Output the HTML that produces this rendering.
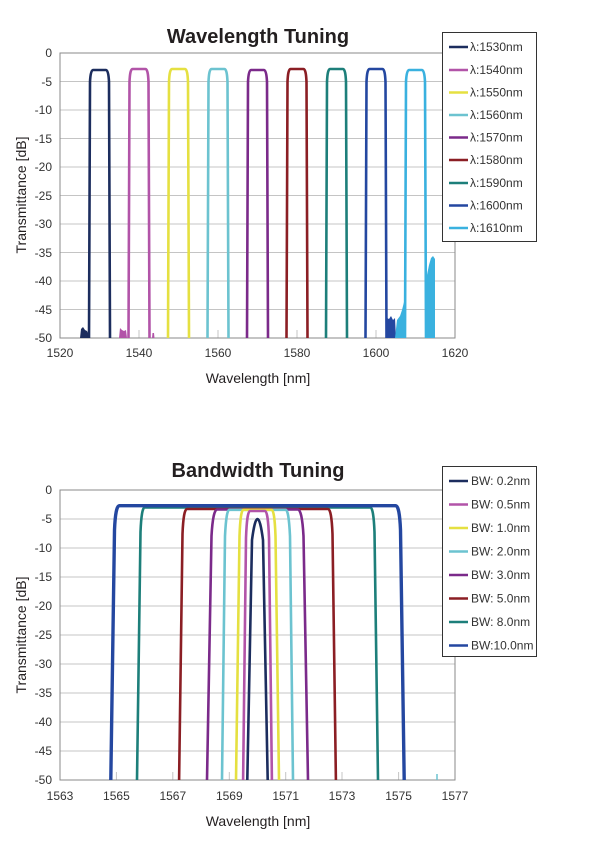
<!DOCTYPE html>
<html><head><meta charset="utf-8"><style>
html,body{margin:0;padding:0;background:#fff;}
svg{display:block;font-family:"Liberation Sans",sans-serif;}
</style></head><body>
<svg width="600" height="852" viewBox="0 0 600 852" xmlns="http://www.w3.org/2000/svg">
<!-- ===== TOP CHART ===== -->
<text x="258" y="43" text-anchor="middle" font-size="20" font-weight="bold" fill="#231f20">Wavelength Tuning</text>
<g stroke="#c4c4c4" stroke-width="1">
<line x1="60" y1="81.5" x2="455" y2="81.5"/><line x1="60" y1="110" x2="455" y2="110"/>
<line x1="60" y1="138.5" x2="455" y2="138.5"/><line x1="60" y1="167" x2="455" y2="167"/>
<line x1="60" y1="195.5" x2="455" y2="195.5"/><line x1="60" y1="224" x2="455" y2="224"/>
<line x1="60" y1="252.5" x2="455" y2="252.5"/><line x1="60" y1="281" x2="455" y2="281"/>
<line x1="60" y1="309.5" x2="455" y2="309.5"/>
<line x1="139" y1="330" x2="139" y2="338"/><line x1="218" y1="330" x2="218" y2="338"/><line x1="297" y1="330" x2="297" y2="338"/><line x1="376" y1="330" x2="376" y2="338"/>
</g>
<rect x="60" y="53" width="395" height="285" fill="none" stroke="#8a8a8a" stroke-width="1"/>
<g font-size="12" fill="#333" text-anchor="end">
<text x="52" y="57">0</text><text x="52" y="86">-5</text><text x="52" y="114">-10</text><text x="52" y="143">-15</text><text x="52" y="171">-20</text><text x="52" y="200">-25</text><text x="52" y="228">-30</text><text x="52" y="257">-35</text><text x="52" y="285">-40</text><text x="52" y="314">-45</text><text x="52" y="342">-50</text>
</g>
<g font-size="12" fill="#333" text-anchor="middle">
<text x="60" y="357">1520</text><text x="139" y="357">1540</text><text x="218" y="357">1560</text><text x="297" y="357">1580</text><text x="376" y="357">1600</text><text x="455" y="357">1620</text>
</g>
<text x="258" y="383" text-anchor="middle" font-size="14" fill="#231f20">Wavelength [nm]</text>
<text transform="translate(26,195) rotate(-90)" text-anchor="middle" font-size="14" fill="#231f20">Transmittance [dB]</text>
<!-- noise -->
<polygon points="80,338 81,329 83,327 85,330 87,331 88,333 89,338" fill="#1c2d5e"/>
<polygon points="119,338 120,328 122,330 124,331 126,330 127,338" fill="#b254a8"/>
<polygon points="152,338 152.5,333 154,333 154.5,338" fill="#b254a8"/>
<polygon points="386,338 387,318 389,319 391,316 393,320 395,318 396,338" fill="#2447a0"/>
<polygon points="395,338 397,320 400,316 402,310 404,302 405,300 405,338" fill="#3ab1df"/>
<polygon points="426,338 427,275 429,265 431,258 433,256 435,259 435,338" fill="#3ab1df"/>
<g fill="none" stroke-width="2.6" stroke-linejoin="round">
<path d="M89,338 L90,82 Q90.5,70 93,70 L106,70 Q108.5,70 109,82 L110,338" stroke="#1c2d5e"/>
<path d="M128.5,338 L129.5,82 Q130,69 132.5,69 L145.5,69 Q148,69 148.5,82 L149.5,338" stroke="#b254a8"/>
<path d="M168,338 L169,82 Q169.5,69 172,69 L185,69 Q187.5,69 188,82 L189,338" stroke="#e5e041"/>
<path d="M207.5,338 L208.5,82 Q209,69 211.5,69 L224.5,69 Q227,69 227.5,82 L228.5,338" stroke="#6cc3d0"/>
<path d="M247,338 L248,82 Q248.5,70 251,70 L264,70 Q266.5,70 267,82 L268,338" stroke="#7b2a8a"/>
<path d="M286.5,338 L287.5,82 Q288,69 290.5,69 L303.5,69 Q306,69 306.5,82 L307.5,338" stroke="#8b1e24"/>
<path d="M326,338 L327,82 Q327.5,69 330,69 L343,69 Q345.5,69 346,82 L347,338" stroke="#1d7f7a"/>
<path d="M365.5,338 L366.5,82 Q367,69 369.5,69 L382.5,69 Q385,69 385.5,82 L386.5,338" stroke="#2447a0"/>
<path d="M405,338 L406,82 Q406.5,70 409,70 L422,70 Q424.5,70 425,82 L426,338" stroke="#3ab1df"/>
</g>
<!-- legend top -->
<rect x="442.5" y="32.5" width="94" height="209" fill="#fff" stroke="#333" stroke-width="1"/>
<g stroke-width="2.5">
<line x1="449" y1="47" x2="468" y2="47" stroke="#1c2d5e"/><line x1="449" y1="70" x2="468" y2="70" stroke="#b254a8"/>
<line x1="449" y1="92.5" x2="468" y2="92.5" stroke="#e5e041"/><line x1="449" y1="115" x2="468" y2="115" stroke="#6cc3d0"/>
<line x1="449" y1="137.5" x2="468" y2="137.5" stroke="#7b2a8a"/><line x1="449" y1="160" x2="468" y2="160" stroke="#8b1e24"/>
<line x1="449" y1="183" x2="468" y2="183" stroke="#1d7f7a"/><line x1="449" y1="205.5" x2="468" y2="205.5" stroke="#2447a0"/>
<line x1="449" y1="228" x2="468" y2="228" stroke="#3ab1df"/>
</g>
<g font-size="12" fill="#333">
<text x="470" y="51">λ:1530nm</text><text x="470" y="74">λ:1540nm</text><text x="470" y="96.5">λ:1550nm</text><text x="470" y="119">λ:1560nm</text><text x="470" y="141.5">λ:1570nm</text><text x="470" y="164">λ:1580nm</text><text x="470" y="187">λ:1590nm</text><text x="470" y="209.5">λ:1600nm</text><text x="470" y="232">λ:1610nm</text>
</g>

<!-- ===== BOTTOM CHART ===== -->
<text x="258" y="477" text-anchor="middle" font-size="20" font-weight="bold" fill="#231f20">Bandwidth Tuning</text>
<g stroke="#c4c4c4" stroke-width="1">
<line x1="60" y1="519" x2="455" y2="519"/><line x1="60" y1="548" x2="455" y2="548"/>
<line x1="60" y1="577" x2="455" y2="577"/><line x1="60" y1="606" x2="455" y2="606"/>
<line x1="60" y1="635" x2="455" y2="635"/><line x1="60" y1="664" x2="455" y2="664"/>
<line x1="60" y1="693" x2="455" y2="693"/><line x1="60" y1="722" x2="455" y2="722"/>
<line x1="60" y1="751" x2="455" y2="751"/>
<line x1="116.4" y1="772" x2="116.4" y2="780"/><line x1="172.8" y1="772" x2="172.8" y2="780"/><line x1="229.3" y1="772" x2="229.3" y2="780"/><line x1="285.7" y1="772" x2="285.7" y2="780"/><line x1="342" y1="772" x2="342" y2="780"/><line x1="398.6" y1="772" x2="398.6" y2="780"/>
</g>
<rect x="60" y="490" width="395" height="290" fill="none" stroke="#8a8a8a" stroke-width="1"/>
<g font-size="12" fill="#333" text-anchor="end">
<text x="52" y="494">0</text><text x="52" y="523">-5</text><text x="52" y="552">-10</text><text x="52" y="581">-15</text><text x="52" y="610">-20</text><text x="52" y="639">-25</text><text x="52" y="668">-30</text><text x="52" y="697">-35</text><text x="52" y="726">-40</text><text x="52" y="755">-45</text><text x="52" y="784">-50</text>
</g>
<g font-size="12" fill="#333" text-anchor="middle">
<text x="60" y="800">1563</text><text x="116.4" y="800">1565</text><text x="172.8" y="800">1567</text><text x="229.3" y="800">1569</text><text x="285.7" y="800">1571</text><text x="342" y="800">1573</text><text x="398.6" y="800">1575</text><text x="455" y="800">1577</text>
</g>
<text x="258" y="826" text-anchor="middle" font-size="14" fill="#231f20">Wavelength [nm]</text>
<text transform="translate(26,635) rotate(-90)" text-anchor="middle" font-size="14" fill="#231f20">Transmittance [dB]</text>
<line x1="437" y1="774" x2="437" y2="780" stroke="#6cc3d0" stroke-width="1.5"/>
<g fill="none" stroke-linejoin="round">
<path d="M137,780 L140.5,532 Q141.5,507.4 144.7,507.4 L370.3,507.4 Q373.5,507.4 374.5,532 L378,780" stroke="#1d7f7a" stroke-width="2.6"/>
<path d="M179.1,780 L182.5,534 Q183.5,509 187,509 L328,509 Q331.5,509 332.5,534 L335.9,780" stroke="#8b1e24" stroke-width="2.6"/>
<path d="M207,780 L211.5,536 Q213,509.5 217.2,509.5 L297.8,509.5 Q302,509.5 303.5,536 L308,780" stroke="#7b2a8a" stroke-width="2.6"/>
<path d="M222,780 L225,536 Q226.3,509.8 229.3,509.8 L285.7,509.8 Q288.7,509.8 290,536 L293,780" stroke="#6cc3d0" stroke-width="2.6"/>
<path d="M236,780 L239.5,536 Q240.5,509.8 243.4,509.8 L271.6,509.8 Q274.5,509.8 275.5,536 L279,780" stroke="#e5e041" stroke-width="2.6"/>
<path d="M243.1,780 L246,538 Q247,511 250,511 L265,511 Q268,511 269,538 L271.9,780" stroke="#b254a8" stroke-width="2.6"/>
<path d="M247.3,780 L252,540 Q257.5,498 263,540 L267.7,780" stroke="#1c2d5e" stroke-width="2.6"/>
<path d="M110.8,780 L114.5,530 Q115.5,505.7 119.3,505.7 L395.7,505.7 Q399.5,505.7 400.5,530 L404.2,780" stroke="#2447a0" stroke-width="3.4"/>
</g>
<!-- legend bottom -->
<rect x="442.5" y="466.5" width="94" height="190" fill="#fff" stroke="#333" stroke-width="1"/>
<g stroke-width="2.5">
<line x1="449" y1="481" x2="468" y2="481" stroke="#1c2d5e"/><line x1="449" y1="504.5" x2="468" y2="504.5" stroke="#b254a8"/>
<line x1="449" y1="528" x2="468" y2="528" stroke="#e5e041"/><line x1="449" y1="551.5" x2="468" y2="551.5" stroke="#6cc3d0"/>
<line x1="449" y1="575" x2="468" y2="575" stroke="#7b2a8a"/><line x1="449" y1="598.5" x2="468" y2="598.5" stroke="#8b1e24"/>
<line x1="449" y1="622" x2="468" y2="622" stroke="#1d7f7a"/><line x1="449" y1="645.5" x2="468" y2="645.5" stroke="#2447a0"/>
</g>
<g font-size="12" fill="#333">
<text x="471" y="485">BW: 0.2nm</text><text x="471" y="508.5">BW: 0.5nm</text><text x="471" y="532">BW: 1.0nm</text><text x="471" y="555.5">BW: 2.0nm</text><text x="471" y="579">BW: 3.0nm</text><text x="471" y="602.5">BW: 5.0nm</text><text x="471" y="626">BW: 8.0nm</text><text x="471" y="649.5">BW:10.0nm</text>
</g>
</svg>
</body></html>
